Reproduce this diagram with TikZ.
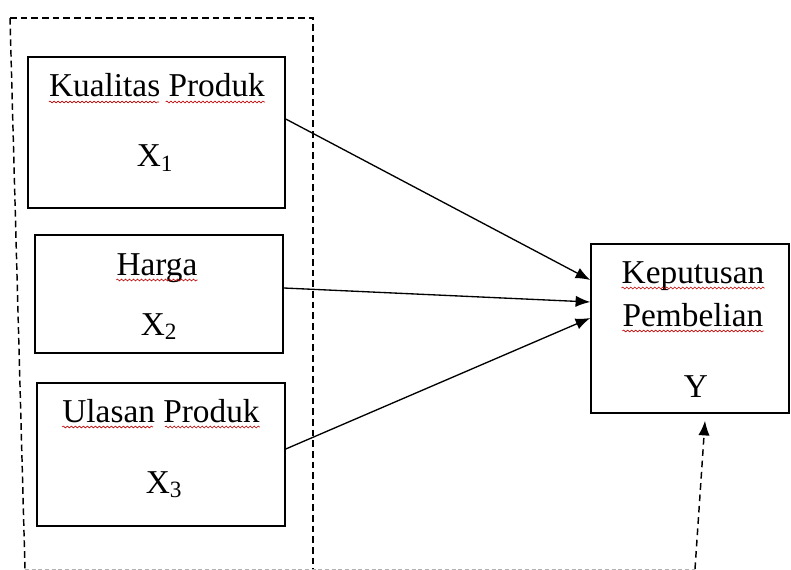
\documentclass[tikz,border=0pt]{standalone}
\usepackage{fontspec}
\setmainfont{Liberation Serif}
\usetikzlibrary{arrows.meta,calc,decorations.pathmorphing}
\begin{document}
\begin{tikzpicture}[x=0.75pt,y=-0.75pt,
  box/.style={draw,line width=1.1pt,inner sep=0pt,rectangle},
  lbl/.style={font=\fontsize{25}{30}\selectfont,anchor=base,inner sep=0pt},
  frame/.style={draw,line width=1.1pt,dash pattern=on 5pt off 3pt},
  conn/.style={draw,line width=1pt,-{Latex[length=11pt,width=8.5pt]}},
  dconn/.style={draw,line width=1.1pt,dash pattern=on 5pt off 3.5pt,-{Latex[length=11pt,width=8.5pt]}},
  wavy/.style={draw=red!75!black,line width=0.45pt,decorate,decoration={snake,amplitude=0.7pt,segment length=3pt}}]
\useasboundingbox (0,0) rectangle (791,570);
% grouping frame
\draw[frame] (10,18) -- (313,18) -- (313,569);
\draw[frame] (10,18) -- (25,569);
% boxes
\node[box,minimum width=192.75pt,minimum height=113.25pt] (b1) at (156.5,132.5) {};
\node[box,minimum width=186pt,minimum height=88.5pt] (b2) at (159,294) {};
\node[box,minimum width=186pt,minimum height=107.25pt] (b3) at (161,454.5) {};
\node[box,minimum width=148.5pt,minimum height=126.75pt] (y) at (690,328.5) {};
% labels
\node[lbl] (t1) at (157,97) {Kualitas Produk};
\node[lbl] (x1) at (155,167) {X\textsubscript{1}};
\node[lbl] (t2) at (157,275) {Harga};
\node[lbl] (x2) at (159,335) {X\textsubscript{2}};
\node[lbl] (t3) at (161,422) {Ulasan Produk};
\node[lbl] (x3) at (164,493) {X\textsubscript{3}};
\node[lbl] (t4) at (693,283) {Keputusan};
\node[lbl] (t5) at (693,326) {Pembelian};
\node[lbl] (ty) at (696,397) {Y};
% spell-check underlines
\path[wavy] ($(t1.base west)+(0,5)$) -- ($($(t1.base west)!0.51!(t1.base east)$)+(0,5)$);
\path[wavy] ($($(t1.base west)!0.54!(t1.base east)$)+(0,5)$) -- ($(t1.base east)+(0,5)$);
\path[wavy] ($(t2.base west)+(0,5)$) -- ($(t2.base east)+(0,5)$);
\path[wavy] ($(t3.base west)+(0,5)$) -- ($($(t3.base west)!0.46!(t3.base east)$)+(0,5)$);
\path[wavy] ($($(t3.base west)!0.52!(t3.base east)$)+(0,5)$) -- ($(t3.base east)+(0,5)$);
\path[wavy] ($(t4.base west)+(0,5)$) -- ($(t4.base east)+(0,5)$);
\path[wavy] ($(t5.base west)+(0,5)$) -- ($(t5.base east)+(0,5)$);
% connectors
\draw[conn] ($(b1.east)+(0,-13.5)$) -- ($(y.west)+(0,-48.5)$);
\draw[conn] ($(b2.east)+(0,-6)$) -- ($(y.west)+(0,-26.5)$);
\draw[conn] ($(b3.east)+(0,-5.5)$) -- ($(y.west)+(0,-10.5)$);
% bottom dashed link
\coordinate (foot) at (695,569);
\draw[line width=0.6pt,gray!60,dash pattern=on 3pt off 2pt] (25,569) -- (foot);
\draw[dconn] (foot) -- ($(y.south)+(15,7)$);
\end{tikzpicture}
\end{document}
